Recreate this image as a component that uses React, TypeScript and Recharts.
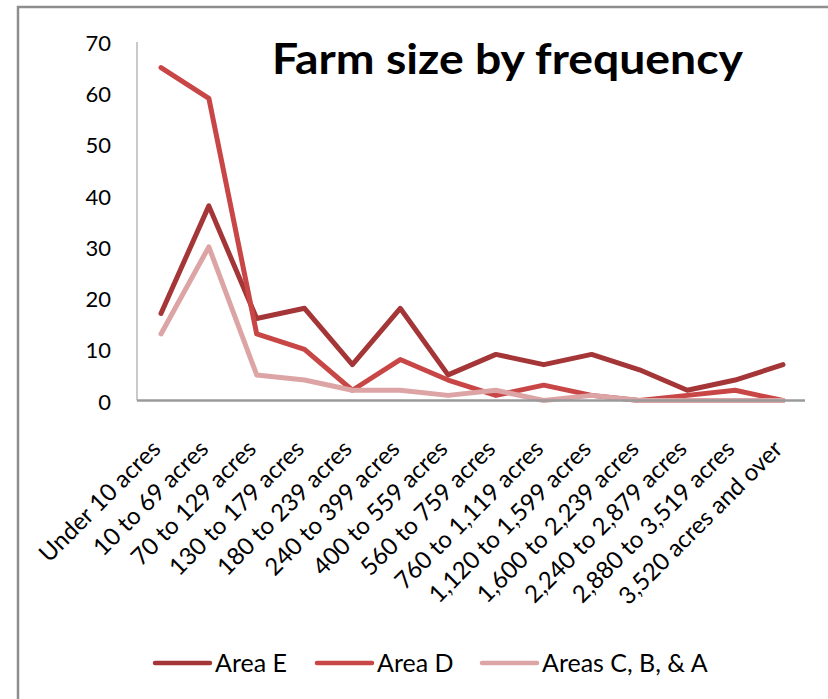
import React from "react";
import { LineChart, Line, XAxis, YAxis } from "recharts";

// Farm size classes (x categories)
const categories = [
  "Under 10 acres",
  "10 to 69 acres",
  "70 to 129 acres",
  "130 to 179 acres",
  "180 to 239 acres",
  "240 to 399 acres",
  "400 to 559 acres",
  "560 to 759 acres",
  "760 to 1,119 acres",
  "1,120 to 1,599 acres",
  "1,600 to 2,239 acres",
  "2,240 to 2,879 acres",
  "2,880 to 3,519 acres",
  "3,520 acres and over",
];

// Number of farms in each size class
const areaE = [17, 38, 16, 18, 7, 18, 5, 9, 7, 9, 6, 2, 4, 7];
const areaD = [65, 59, 13, 10, 2, 8, 4, 1, 3, 1, 0, 1, 2, 0];
const areasCBA = [13, 30, 5, 4, 2, 2, 1, 2, 0, 1, 0, 0, 0, 0];

const yTicks = [0, 10, 20, 30, 40, 50, 60, 70];

const seriesKeys = ["e", "d", "cba"];
const seriesNames = ["Area E", "Area D", "Areas C, B, & A"];
const seriesColors = ["#A53637", "#C84646", "#DCA4A4"];

const titleText = "Farm size by frequency";

const data = categories.map((category, i) => ({
  category,
  e: areaE[i],
  d: areaD[i],
  cba: areasCBA[i],
}));

const FONT = "Lato, 'Open Sans', sans-serif";
const W = 828;
const H = 699;

const XTick = (props: any) => {
  const { x, y, payload } = props;
  return (
    <g transform={`translate(${x + 1},${y + 50}) rotate(-45)`}>
      <text
        x={0}
        y={0}
        textAnchor="end"
        fontFamily={FONT}
        fontSize={24}
        fill="#000"
      >
        {payload.value}
      </text>
    </g>
  );
};

const YTick = (props: any) => {
  const { x, y, payload } = props;
  return (
    <text
      x={x - 26}
      y={y + 9}
      textAnchor="end"
      fontFamily={FONT}
      fontSize={22}
      fill="#000"
    >
      {payload.value}
    </text>
  );
};

// x positions of legend swatches
const legendX = [155, 317, 482];

export default function App() {
  return (
    <div style={{ position: "absolute", left: 0, top: 0, width: W, height: H, background: "#fff" }}>
      <LineChart
        width={W}
        height={H}
        data={data}
        margin={{ top: 42, right: 23, bottom: 0, left: 0 }}
      >
        <XAxis
          dataKey="category"
          interval={0}
          height={298.5}
          tickLine={false}
          tickSize={0}
          tickMargin={0}
          padding={{ left: 24, right: 22 }}
          axisLine={{ stroke: "#9a9a9a", strokeWidth: 2.5 }}
          tick={<XTick />}
        />
        <YAxis
          width={137}
          domain={[0, 70]}
          ticks={yTicks}
          interval={0}
          tickLine={false}
          tickSize={0}
          tickMargin={0}
          axisLine={{ stroke: "#a6a6a6", strokeWidth: 1.2 }}
          tick={<YTick />}
        />
        {seriesKeys.map((k, i) => (
          <Line
            key={k}
            type="linear"
            dataKey={k}
            name={seriesNames[i]}
            stroke={seriesColors[i]}
            strokeWidth={5}
            strokeLinejoin="round"
            strokeLinecap="round"
            dot={false}
            activeDot={false}
            isAnimationActive={false}
          />
        ))}
      </LineChart>
      <svg
        width={W}
        height={H}
        style={{ position: "absolute", left: 0, top: 0, pointerEvents: "none" }}
      >
        <rect x={18} y={7} width={900} height={800} fill="none" stroke="#8e8e8e" strokeWidth={2.5} />
        <text
          x={272}
          y={74}
          textLength={471}
          lengthAdjust="spacingAndGlyphs"
          fontFamily={FONT}
          fontWeight={700}
          fontSize={42}
          fill="#000"
        >
          {titleText}
        </text>
        {seriesNames.map((name, i) => (
          <g key={name}>
            <line
              x1={legendX[i]}
              x2={legendX[i] + 55}
              y1={663}
              y2={663}
              stroke={seriesColors[i]}
              strokeWidth={4.5}
              strokeLinecap="round"
            />
            <text
              x={legendX[i] + 60}
              y={672}
              fontFamily={FONT}
              fontSize={25}
              fill="#000"
            >
              {name}
            </text>
          </g>
        ))}
      </svg>
    </div>
  );
}
